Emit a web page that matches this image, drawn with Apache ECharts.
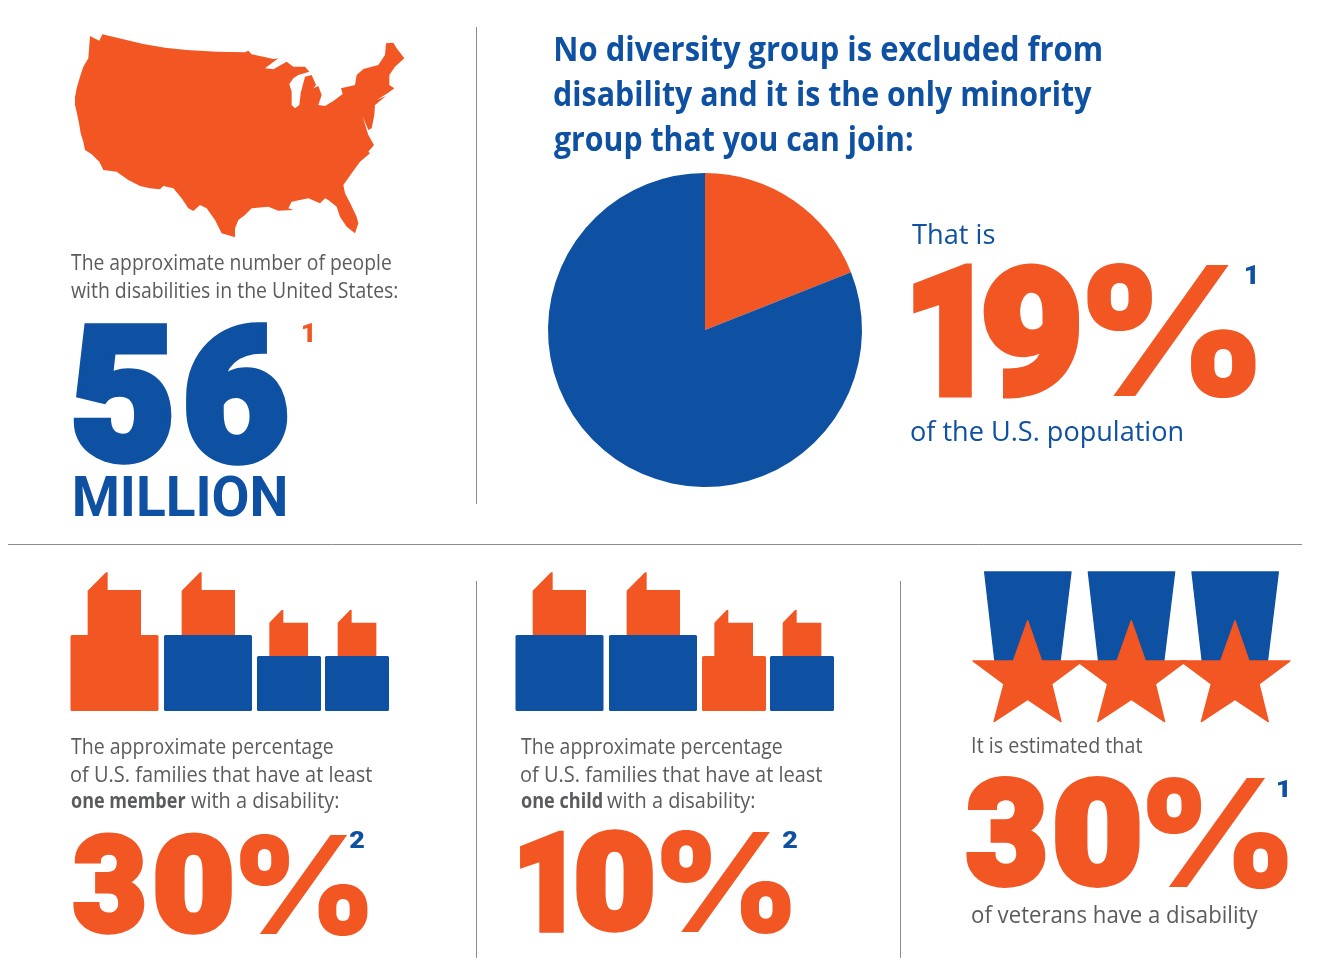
<!DOCTYPE html>
<html>
<head>
<meta charset="utf-8">
<title>Disability statistics</title>
<script src="https://cdn.jsdelivr.net/npm/echarts@6/dist/echarts.min.js"></script>
<style>
  html, body { margin: 0; padding: 0; background: #fff; }
  #chart { width: 1330px; height: 976px; }
</style>
</head>
<body>
<div id="chart"></div>
<script>
const pieCategories = ['People with disabilities', 'Everyone else'];
const pieValues = [19, 81];

const ORANGE = '#f15623';
const BLUE = '#0e50a1';
const GRAY = '#5a5b5d';
const RULE = '#8a8a8a';
const DIGIT_FONT = 'Roboto';
const SIGN_FONT = 'Inter';
const TEXT_FONT = '"Open Sans"';
const HEAVY = 8;

// outline of the lower 48, traced at 3x from the artwork
const usOutline = [[90,48],[118,62],[127,43],[190,58],[250,72],[315,83],[380,90],[470,95],[555,97],[565,92],[575,103],[610,110],[640,117],[655,115],[615,145],[640,148],[680,125],[700,140],[735,140],[748,155],[715,165],[700,175],[688,192],[695,215],[695,255],[705,265],[718,255],[722,220],[735,170],[755,165],[768,195],[760,205],[775,198],[785,225],[775,255],[795,258],[820,243],[848,222],[843,205],[885,195],[890,165],[910,147],[955,135],[975,105],[978,70],[1000,68],[1010,85],[1033,115],[1005,140],[988,165],[988,195],[1003,205],[985,218],[950,240],[978,228],[945,255],[943,285],[935,325],[925,330],[908,290],[925,345],[942,375],[925,395],[930,400],[900,425],[875,460],[850,495],[855,520],[870,548],[890,590],[895,610],[885,640],[860,620],[840,590],[830,560],[805,540],[795,535],[780,550],[745,535],[695,545],[685,565],[700,570],[655,572],[625,560],[575,565],[555,585],[535,600],[525,625],[525,652],[485,640],[465,600],[440,565],[420,555],[400,573],[385,565],[365,535],[340,505],[310,498],[300,508],[270,505],[240,498],[205,480],[170,455],[130,450],[118,425],[95,403],[75,390],[70,365],[62,340],[57,310],[52,285],[45,255],[45,232],[50,205],[60,170],[70,140],[85,115]];

const elements = [];
const measureCtx = document.createElement('canvas').getContext('2d');
measureCtx.textBaseline = 'middle'; // zrender draws each line on the middle baseline

// text stretched so its ink fills x0..x1, with the baseline at y
function line(str, x0, x1, y, size, weight, color) {
  const font = weight + ' ' + size + 'px ' + TEXT_FONT;
  measureCtx.font = font;
  const m = measureCtx.measureText(str);
  const sx = (x1 - x0) / (m.actualBoundingBoxLeft + m.actualBoundingBoxRight);
  const toBase = measureCtx.measureText('H').actualBoundingBoxDescent;
  elements.push({
    type: 'text', x: x0 + m.actualBoundingBoxLeft * sx, y: y - toBase, scaleX: sx, z: 10,
    style: { text: str, font: font, fill: color, align: 'left', verticalAlign: 'middle' }
  });
}

// big glyphs: stretched both ways to fill a box, thick is extra stroke in font units
function big(str, x0, x1, y0, y1, color, thick, weight, family) {
  const font = (weight || 900) + ' 200px ' + (family || DIGIT_FONT);
  const t = thick || 0;
  measureCtx.font = font;
  const m = measureCtx.measureText(str);
  const sx = (x1 - x0) / (m.actualBoundingBoxLeft + m.actualBoundingBoxRight + t);
  const sy = (y1 - y0) / (m.actualBoundingBoxAscent + m.actualBoundingBoxDescent + t);
  elements.push({
    type: 'text', x: x0 + (m.actualBoundingBoxLeft + t / 2) * sx, y: y1 - (m.actualBoundingBoxDescent + t / 2) * sy,
    scaleX: sx, scaleY: sy, z: 10,
    style: { text: str, font: font, fill: color, align: 'left', verticalAlign: 'middle',
      stroke: t ? color : null, lineWidth: t, lineJoin: 'miter', miterLimit: 2 }
  });
}

function percent(x0, x1, y0, y1) {
  big('%', x0, x1, y0, y1, ORANGE, 0, 900, SIGN_FONT);
}

// rounded: a same-colour stroke softens the corners of stars and hats
function poly(points, color, ox, oy, z, rounded) {
  elements.push({
    type: 'polygon', x: ox, y: oy, scaleX: 1 / 3, scaleY: 1 / 3, z: z || 5,
    shape: { points: points },
    style: { fill: color, stroke: rounded ? color : null, lineWidth: rounded ? 4 : 0, lineJoin: 'round' }
  });
}

function rect(x0, y0, x1, y1, color) {
  elements.push({
    type: 'rect', z: 6, shape: { x: x0, y: y0, width: x1 - x0, height: y1 - y0, r: 1.5 }, style: { fill: color }
  });
}

function rule(x0, y0, x1, y1) {
  elements.push({
    type: 'line', z: 1, shape: { x1: x0, y1: y0, x2: x1, y2: y1 }, style: { stroke: RULE, lineWidth: 1 }
  });
}

rule(476.5, 27, 476.5, 504);
rule(8, 544.5, 1302, 544.5);
rule(476.5, 581, 476.5, 958);
rule(900.5, 581, 900.5, 958);

// map and the 56 million panel
poly(usOutline, ORANGE, 60, 20);
line('The approximate number of people', 71, 391, 270, 21, 400, GRAY);
line('with disabilities in the United States:', 71, 397, 298, 21, 400, GRAY);
big('5', 73, 172, 323, 465, BLUE, HEAVY);
big('6', 186, 288, 322, 466, BLUE, HEAVY);
big('MILLION', 75, 285, 476, 517, BLUE, 0, 700);
big('1', 303, 312, 324, 342, ORANGE, 0);

// headline and the pie's caption
line('No diversity group is excluded from', 556, 1101, 61, 34, 700, BLUE);
line('disability and it is the only minority', 554, 1092, 106, 34, 700, BLUE);
line('group that you can join:', 554, 912, 151, 34, 700, BLUE);
line('That is', 912, 995, 244, 28, 400, BLUE);
big('1', 913, 972, 263, 398, ORANGE, HEAVY);
big('9', 983, 1080, 263, 398, ORANGE, HEAVY);
percent(1087, 1256, 263, 398);
big('1', 1246, 1255, 266, 284, BLUE, 0);
line('of the U.S. population', 911, 1182, 441, 28, 400, BLUE);

// households
const houseLarge = [[83,92],[138,37],[143,37],[143,90],[243,90],[243,226],[83,226]];
const houseSmall = [[628,188],[665,150],[670,150],[670,188],[744,188],[744,288],[628,288]];
[0, 445].forEach((dx, i) => {
  const colors = i === 0 ? [ORANGE, BLUE, BLUE, BLUE] : [BLUE, BLUE, ORANGE, BLUE];
  poly(houseLarge, ORANGE, 60 + dx, 560);
  poly(houseLarge.map(p => [p[0] + 282, p[1]]), ORANGE, 60 + dx, 560);
  poly(houseSmall, ORANGE, 60 + dx, 560);
  poly(houseSmall.map(p => [p[0] + 205, p[1]]), ORANGE, 60 + dx, 560);
  rect(70.5 + dx, 635, 158.5 + dx, 711, colors[0]);
  rect(164 + dx, 635, 252 + dx, 711, colors[1]);
  rect(257 + dx, 656, 321 + dx, 711, colors[2]);
  rect(325 + dx, 656, 389 + dx, 711, colors[3]);
});

line('The approximate percentage', 71, 333, 754, 21, 400, GRAY);
line('of U.S. families that have at least', 71, 372, 782, 21, 400, GRAY);
line('one member', 71, 186, 808, 21, 700, GRAY);
line('with a disability:', 191, 338, 808, 21, 400, GRAY);
big('3', 73, 145, 833, 935, ORANGE, HEAVY);
big('0', 155, 232, 833, 935, ORANGE, HEAVY);
percent(240, 368, 833, 935);
big('2', 350, 364, 830, 848, BLUE, 0);

line('The approximate percentage', 521, 782, 754, 21, 400, GRAY);
line('of U.S. families that have at least', 521, 822, 782, 21, 400, GRAY);
line('one child', 521, 602, 808, 21, 700, GRAY);
line('with a disability:', 607, 754, 808, 21, 400, GRAY);
big('1', 520, 564, 830, 933, ORANGE, HEAVY);
big('0', 576, 653, 830, 933, ORANGE, HEAVY);
percent(661, 791, 830, 933);
big('2', 783, 797, 830, 848, BLUE, 0);

// veterans
const hat = [[74,36],[333,36],[300,305],[105,305]];
const star = [[203,182],[245,303],[368,303],[275,372],[303,485],[203,418],[102,485],[132,372],[39,303],[160,303]];
[0, 311, 622].forEach(dx => {
  poly(hat.map(p => [p[0] + dx, p[1]]), BLUE, 960, 560, 5, true);
  poly(star.map(p => [p[0] + dx, p[1]]), ORANGE, 960, 560, 6, true);
});

line('It is estimated that', 973, 1142, 753, 21, 400, GRAY);
big('3', 966, 1046, 776, 888, ORANGE, HEAVY);
big('0', 1055, 1140, 776, 888, ORANGE, HEAVY);
percent(1147, 1288, 776, 888);
big('1', 1278, 1287, 780, 797, BLUE, 0);
line('of veterans have a disability', 972, 1258, 923, 23, 400, GRAY);

const chart = echarts.init(document.getElementById('chart'), null, { renderer: 'canvas' });
chart.setOption({
  animation: false,
  backgroundColor: '#ffffff',
  series: [{
    type: 'pie',
    center: [705, 330],
    radius: [0, 157],
    startAngle: 90,
    clockwise: true,
    silent: true,
    label: { show: false },
    labelLine: { show: false },
    data: pieCategories.map((name, i) => ({
      name: name,
      value: pieValues[i],
      itemStyle: { color: i === 0 ? ORANGE : BLUE }
    }))
  }],
  graphic: { elements: elements }
});
</script>
</body>
</html>
